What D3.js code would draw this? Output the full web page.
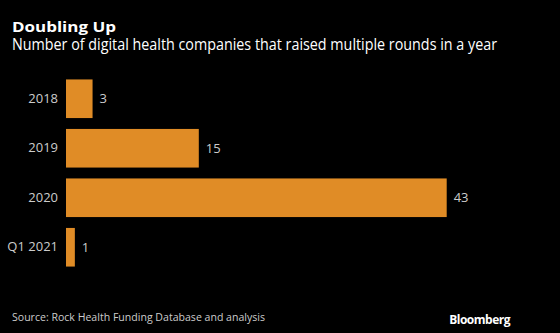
<!DOCTYPE html>
<html>
<head>
<meta charset="utf-8">
<script src="https://cdn.jsdelivr.net/npm/d3@7"></script>
<style>
  body { margin: 0; background: #000; }
  text { font-family: "Open Sans", "Noto Sans", sans-serif; }
</style>
</head>
<body>
<div id="chart"></div>
<script>
//Chart data
var categories = ["2018", "2019", "2020", "Q1 2021"];
var values = [3, 15, 43, 1];

//SVG width and height values
var svgWidth = 560;
var svgHeight = 333;

//Plot area
var margin = { top: 74, left: 66 };
var plotHeight = 198;

var svg = d3.select("#chart")
  .append("svg")
  .attr("width", svgWidth)
  .attr("height", svgHeight)
  .style("background", "#000");

//Title and subtitle
svg.append("text")
  .attr("x", 12)
  .attr("y", 31.5)
  .attr("fill", "#fff")
  .attr("font-size", 14.5)
  .attr("font-weight", "bold")
  .attr("textLength", 104)
  .attr("lengthAdjust", "spacingAndGlyphs")
  .text("Doubling Up");

svg.append("text")
  .attr("x", 12)
  .attr("y", 49.5)
  .attr("fill", "#fff")
  .attr("font-size", 15.5)
  .attr("textLength", 485)
  .attr("lengthAdjust", "spacingAndGlyphs")
  .text("Number of digital health companies that raised multiple rounds in a year");

//Scales
var xScale = d3.scaleLinear()
  .domain([0, 43])
  .range([0, 380.7]);

var yScale = d3.scaleBand()
  .domain(categories)
  .range([0, plotHeight])
  .paddingInner(0.22)
  .paddingOuter(0.11);

var chartGroup = svg.append("g")
  .attr("transform", `translate(${margin.left}, ${margin.top})`);

//Bars
chartGroup.selectAll("rect")
  .data(values)
  .enter()
  .append("rect")
  .attr("x", 0)
  .attr("y", (d, i) => yScale(categories[i]))
  .attr("width", d => xScale(d))
  .attr("height", yScale.bandwidth())
  .attr("fill", "#e08c26");

//Category labels
var leftAxis = d3.axisLeft(yScale).tickSize(0).tickPadding(8);
var axisGroup = chartGroup.append("g").call(leftAxis);
axisGroup.select(".domain").remove();
axisGroup.selectAll("text")
  .attr("fill", "#ccc")
  .attr("font-size", 13)
  .style("font-family", "\"Open Sans\", sans-serif");

//Value labels
chartGroup.selectAll(".value")
  .data(values)
  .enter()
  .append("text")
  .attr("class", "value")
  .attr("x", d => xScale(d) + 7)
  .attr("y", (d, i) => yScale(categories[i]) + yScale.bandwidth() / 2)
  .attr("dy", "0.35em")
  .attr("fill", "#ccc")
  .attr("font-size", 13)
  .text(d => d);

//Footer
svg.append("text")
  .attr("x", 12)
  .attr("y", 321)
  .attr("fill", "#ccc")
  .attr("font-size", 11.5)
  .attr("textLength", 253)
  .attr("lengthAdjust", "spacingAndGlyphs")
  .text("Source: Rock Health Funding Database and analysis");

svg.append("text")
  .attr("x", 510)
  .attr("y", 324)
  .attr("text-anchor", "end")
  .attr("fill", "#fff")
  .attr("font-size", 12)
  .attr("font-weight", "bold")
  .attr("letter-spacing", -0.5)
  .text("Bloomberg");
</script>
</body>
</html>
